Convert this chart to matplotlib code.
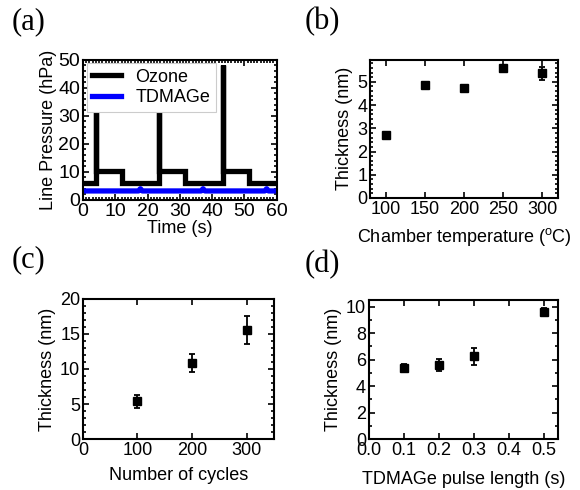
import matplotlib
matplotlib.use('Agg')
import matplotlib.pyplot as plt
from matplotlib.ticker import AutoMinorLocator, MultipleLocator

plt.rcParams['font.family'] = ['Liberation Sans', 'DejaVu Sans']
plt.rcParams['mathtext.fontset'] = 'custom'
plt.rcParams['mathtext.rm'] = 'Liberation Sans'

# (a) line pressure traces
ozone_t = [0, 4.1, 4.1, 4.1, 12.2, 12.2, 23.6, 23.6, 23.6, 31.5, 31.5, 43.3, 43.3, 43.3, 51.5, 51.5, 60]
ozone_p = [6.2, 6.2, 48, 10.2, 10.2, 6.2, 6.2, 48, 10.2, 10.2, 6.2, 6.2, 48, 10.2, 10.2, 6.2, 6.2]
tdmage_t = [0, 17.2, 17.8, 18.4, 36.6, 37.2, 37.8, 56.3, 56.9, 57.5, 60]
tdmage_p = [3.2, 3.2, 4.0, 3.2, 3.2, 4.0, 3.2, 3.2, 4.0, 3.2, 3.2]

# (b) thickness vs chamber temperature
temp = [100, 150, 200, 250, 300]
thick_temp = [2.71, 4.86, 4.74, 5.58, 5.36]
err_temp = [0.08, 0.15, 0.08, 0.08, 0.3]

# (c) thickness vs number of cycles
cycles = [100, 200, 300]
thick_cyc = [5.4, 10.8, 15.6]
err_cyc = [0.95, 1.3, 2.0]

# (d) thickness vs TDMAGe pulse length
pulse = [0.1, 0.2, 0.3, 0.5]
thick_pulse = [5.37, 5.59, 6.25, 9.57]
err_pulse = [0.3, 0.48, 0.63, 0.3]

fig = plt.figure(figsize=(5.8, 4.9), dpi=100)
ax_a = fig.add_axes([0.143, 0.592, 0.334, 0.286])
ax_b = fig.add_axes([0.638, 0.596, 0.324, 0.282])
ax_c = fig.add_axes([0.143, 0.104, 0.329, 0.286])
ax_d = fig.add_axes([0.636, 0.104, 0.326, 0.284])


def style(ax, fs=13):
    ax.tick_params(which='both', direction='in', top=True, right=True, labelsize=fs, width=1.2)
    ax.tick_params(which='major', length=4, pad=2)
    ax.tick_params(which='minor', length=2)
    for s in ax.spines.values():
        s.set_linewidth(1.5)


ax_a.plot(ozone_t, ozone_p, color='black', lw=3.8, label='Ozone', solid_joinstyle='miter')
ax_a.plot(tdmage_t, tdmage_p, color='#0000ff', lw=3.8, label='TDMAGe')
ax_a.set_xlim(0, 60)
ax_a.set_ylim(0, 50)
ax_a.xaxis.set_major_locator(MultipleLocator(10))
ax_a.xaxis.set_minor_locator(AutoMinorLocator(10))
ax_a.yaxis.set_major_locator(MultipleLocator(10))
ax_a.yaxis.set_minor_locator(AutoMinorLocator(5))
ax_a.set_xlabel('Time (s)', fontsize=13, labelpad=0)
ax_a.set_ylabel('Line Pressure (hPa)', fontsize=13, labelpad=1)
leg = ax_a.legend(loc='upper left', fontsize=13, frameon=True, fancybox=False,
                  framealpha=1, edgecolor='#cccccc', handlelength=1.6,
                  borderaxespad=0.2, labelspacing=0.2, borderpad=0.3)
leg.get_frame().set_linewidth(0.8)
style(ax_a, 14)

ebkw = dict(fmt='s', color='black', ms=5.5, elinewidth=1.3, capsize=2, capthick=1.3)

ax_b.errorbar(temp, thick_temp, yerr=err_temp, **ebkw)
ax_b.set_xlim(80, 320)
ax_b.set_ylim(0, 5.95)
ax_b.xaxis.set_major_locator(MultipleLocator(50))
ax_b.yaxis.set_major_locator(MultipleLocator(1))
ax_b.yaxis.set_minor_locator(AutoMinorLocator(5))
ax_b.set_xlabel('Chamber temperature ($^{\\mathrm{o}}$C)', fontsize=13, labelpad=6)
ax_b.set_ylabel('Thickness (nm)', fontsize=13, labelpad=3)
style(ax_b)

ax_c.errorbar(cycles, thick_cyc, yerr=err_cyc, **ebkw)
ax_c.set_xlim(0, 350)
ax_c.set_ylim(0, 20)
ax_c.xaxis.set_major_locator(MultipleLocator(100))
ax_c.yaxis.set_major_locator(MultipleLocator(5))
ax_c.yaxis.set_minor_locator(AutoMinorLocator(5))
ax_c.set_xlabel('Number of cycles', fontsize=13, labelpad=6)
ax_c.set_ylabel('Thickness (nm)', fontsize=13, labelpad=3)
style(ax_c)

ax_d.errorbar(pulse, thick_pulse, yerr=err_pulse, **ebkw)
ax_d.set_xlim(0, 0.54)
ax_d.set_ylim(0, 10.5)
ax_d.xaxis.set_major_locator(MultipleLocator(0.1))
ax_d.yaxis.set_major_locator(MultipleLocator(2))
ax_d.yaxis.set_minor_locator(AutoMinorLocator(2))
ax_d.set_xlabel('TDMAGe pulse length (s)', fontsize=13, labelpad=9)
ax_d.set_ylabel('Thickness (nm)', fontsize=13, labelpad=3)
style(ax_d)

serif = ['Liberation Serif', 'DejaVu Serif']
fig.text(0.020, 0.985, '(a)', fontsize=22, family=serif, va='top')
fig.text(0.526, 0.985, '(b)', fontsize=22, family=serif, va='top')
fig.text(0.020, 0.500, '(c)', fontsize=22, family=serif, va='top')
fig.text(0.526, 0.490, '(d)', fontsize=22, family=serif, va='top')

fig.savefig('out.png', dpi=100)
